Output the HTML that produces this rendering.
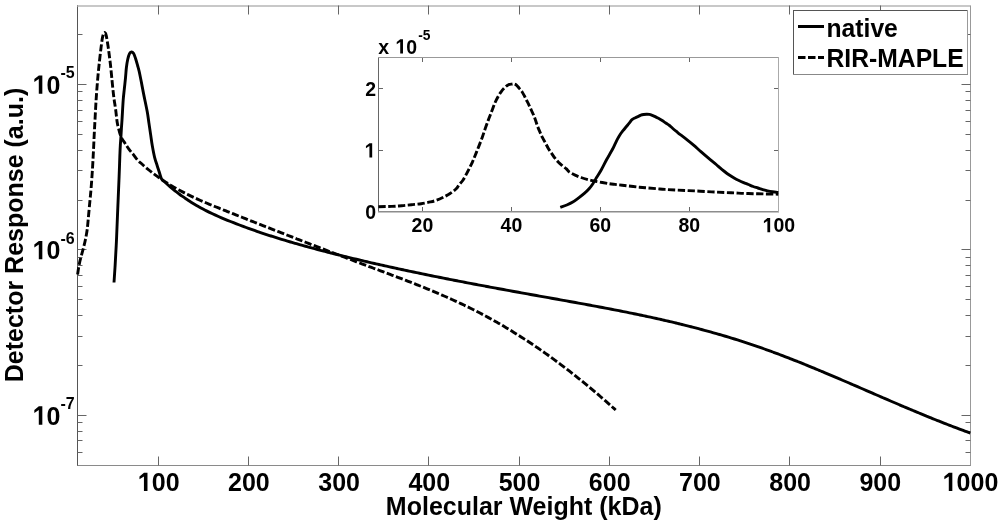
<!DOCTYPE html><html><head><meta charset="utf-8"><style>
html,body{margin:0;padding:0;background:#fff;}
svg{display:block;font-family:"Liberation Sans",sans-serif;font-weight:bold;filter:grayscale(1);}
</style></head><body>
<svg width="1000" height="524" viewBox="0 0 1000 524">
<defs><path id="one" d="M500 0L500 -1150L135 -925L135 -1150L505 -1440L790 -1440L790 0Z"/></defs>
<rect width="1000" height="524" fill="#fff"/>
<g shape-rendering="crispEdges" fill="none">
<rect x="5" y="0" width="0" height="0"/>
</g>
<g fill="none" stroke-width="1">
<line x1="77.5" y1="5" x2="77.5" y2="466" stroke="#555"/>
<line x1="77.5" y1="6" x2="970.5" y2="6" stroke="#c8c8c8" stroke-width="2"/>
<line x1="77.5" y1="465.5" x2="971" y2="465.5" stroke="#8a8a8a"/>
<line x1="970.5" y1="5.5" x2="970.5" y2="465.5" stroke="#999"/>
</g>
<path d="M158.5 465.5 V456.5 M158.5 5.5 V14.5 M248.5 465.5 V456.5 M248.5 5.5 V14.5 M338.5 465.5 V456.5 M338.5 5.5 V14.5 M428.5 465.5 V456.5 M428.5 5.5 V14.5 M519.5 465.5 V456.5 M519.5 5.5 V14.5 M609.5 465.5 V456.5 M609.5 5.5 V14.5 M699.5 465.5 V456.5 M699.5 5.5 V14.5 M789.5 465.5 V456.5 M789.5 5.5 V14.5 M880.5 465.5 V456.5 M880.5 5.5 V14.5 M77.5 452.5 H82.5 M970.5 452.5 H965.5 M77.5 440.5 H82.5 M970.5 440.5 H965.5 M77.5 431.5 H82.5 M970.5 431.5 H965.5 M77.5 422.5 H82.5 M970.5 422.5 H965.5 M77.5 415.5 H86.5 M970.5 415.5 H961.5 M77.5 365.5 H82.5 M970.5 365.5 H965.5 M77.5 336.5 H82.5 M970.5 336.5 H965.5 M77.5 315.5 H82.5 M970.5 315.5 H965.5 M77.5 299.5 H82.5 M970.5 299.5 H965.5 M77.5 286.5 H82.5 M970.5 286.5 H965.5 M77.5 275.5 H82.5 M970.5 275.5 H965.5 M77.5 265.5 H82.5 M970.5 265.5 H965.5 M77.5 257.5 H82.5 M970.5 257.5 H965.5 M77.5 249.5 H86.5 M970.5 249.5 H961.5 M77.5 200.5 H82.5 M970.5 200.5 H965.5 M77.5 170.5 H82.5 M970.5 170.5 H965.5 M77.5 150.5 H82.5 M970.5 150.5 H965.5 M77.5 134.5 H82.5 M970.5 134.5 H965.5 M77.5 121.5 H82.5 M970.5 121.5 H965.5 M77.5 110.5 H82.5 M970.5 110.5 H965.5 M77.5 100.5 H82.5 M970.5 100.5 H965.5 M77.5 91.5 H82.5 M970.5 91.5 H965.5 M77.5 84.5 H86.5 M970.5 84.5 H961.5 M77.5 34.5 H82.5 M970.5 34.5 H965.5" stroke="#666" stroke-width="1" fill="none"/>
<g transform="translate(137.83 491) scale(1 1.04)"><text font-size="25"> 00</text><use href="#one" transform="translate(0 0) scale(0.01221)"/></g>
<g transform="translate(228.03 491) scale(1 1.04)"><text font-size="25">200</text></g>
<g transform="translate(318.23 491) scale(1 1.04)"><text font-size="25">300</text></g>
<g transform="translate(408.43 491) scale(1 1.04)"><text font-size="25">400</text></g>
<g transform="translate(498.63 491) scale(1 1.04)"><text font-size="25">500</text></g>
<g transform="translate(588.84 491) scale(1 1.04)"><text font-size="25">600</text></g>
<g transform="translate(679.04 491) scale(1 1.04)"><text font-size="25">700</text></g>
<g transform="translate(769.24 491) scale(1 1.04)"><text font-size="25">800</text></g>
<g transform="translate(859.44 491) scale(1 1.04)"><text font-size="25">900</text></g>
<g transform="translate(942.69 491) scale(1 1.04)"><text font-size="25"> 000</text><use href="#one" transform="translate(0 0) scale(0.01221)"/></g>
<g transform="translate(32.69 93.7) scale(1 1.04)"><text font-size="25"> 0</text><use href="#one" transform="translate(0 0) scale(0.01221)"/></g>
<text transform="translate(60.5 78.1) scale(1 1.04)" font-size="16">-5</text>
<g transform="translate(32.69 259.17) scale(1 1.04)"><text font-size="25"> 0</text><use href="#one" transform="translate(0 0) scale(0.01221)"/></g>
<text transform="translate(60.5 243.57) scale(1 1.04)" font-size="16">-6</text>
<g transform="translate(32.69 424.64) scale(1 1.04)"><text font-size="25"> 0</text><use href="#one" transform="translate(0 0) scale(0.01221)"/></g>
<text transform="translate(60.5 409.04) scale(1 1.04)" font-size="16">-7</text>
<text transform="translate(523.8 514.9) scale(1 1.04)" font-size="25" text-anchor="middle">Molecular Weight (kDa)</text>
<text transform="translate(22.7 235) rotate(-90) scale(1 1.04)" font-size="25" text-anchor="middle">Detector Response (a.u.)</text>
<g fill="none" stroke="#000" stroke-width="2.9" stroke-linejoin="round">
<path d="M114.00 282.50 C114.18 279.72 114.70 272.60 115.10 265.80 C115.50 259.00 116.00 250.17 116.40 241.70 C116.80 233.23 117.05 225.83 117.50 215.00 C117.95 204.17 118.75 185.37 119.10 176.70 C119.45 168.03 119.47 166.72 119.60 163.00 C119.73 159.28 119.78 157.27 119.90 154.40 C120.02 151.53 120.13 148.67 120.30 145.80 C120.47 142.93 120.72 140.07 120.90 137.20 C121.08 134.33 121.22 131.47 121.40 128.60 C121.58 125.73 121.70 124.77 122.00 120.00 C122.30 115.23 122.82 105.13 123.20 100.00 C123.58 94.87 123.92 92.90 124.30 89.20 C124.68 85.50 125.15 81.42 125.50 77.80 C125.85 74.18 126.03 70.55 126.40 67.50 C126.77 64.45 127.18 61.80 127.70 59.50 C128.22 57.20 128.88 54.95 129.50 53.70 C130.12 52.45 130.73 52.07 131.40 52.00 C132.07 51.93 132.83 52.30 133.50 53.30 C134.17 54.30 134.72 55.97 135.40 58.00 C136.08 60.03 136.97 63.25 137.60 65.50 C138.23 67.75 138.55 68.60 139.20 71.50 C139.85 74.40 140.75 79.08 141.50 82.90 C142.25 86.72 142.75 89.63 143.70 94.40 C144.65 99.17 146.33 106.75 147.20 111.50 C148.07 116.25 148.33 119.08 148.90 122.90 C149.47 126.72 150.03 130.58 150.60 134.40 C151.17 138.22 151.63 141.98 152.30 145.80 C152.97 149.62 153.78 153.98 154.60 157.30 C155.42 160.62 156.45 163.33 157.20 165.70 C157.95 168.07 158.38 169.30 159.10 171.50 C159.82 173.70 160.60 177.21 161.50 178.92 C162.40 180.63 163.50 180.84 164.50 181.76 C165.50 182.69 166.50 183.59 167.50 184.48 C168.50 185.36 169.50 186.23 170.50 187.08 C171.50 187.93 172.50 188.76 173.50 189.57 C174.50 190.38 175.50 191.17 176.50 191.95 C177.50 192.73 178.50 193.49 179.50 194.23 C180.50 194.97 181.50 195.70 182.50 196.41 C183.50 197.12 184.50 197.82 185.50 198.50 C186.50 199.18 187.50 199.85 188.50 200.50 C189.50 201.15 190.50 201.79 191.50 202.41 C192.50 203.03 193.50 203.64 194.50 204.24 C195.50 204.84 196.50 205.43 197.50 206.00 C198.50 206.57 199.50 207.13 200.50 207.68 C201.50 208.23 202.50 208.77 203.50 209.30 C204.50 209.83 205.50 210.34 206.50 210.85 C207.50 211.36 208.50 211.86 209.50 212.35 C210.50 212.83 211.50 213.31 212.50 213.79 C213.50 214.26 214.50 214.72 215.50 215.18 C216.50 215.63 217.50 216.08 218.50 216.52 C219.50 216.96 220.50 217.39 221.50 217.82 C222.50 218.25 223.50 218.67 224.50 219.09 C225.50 219.51 226.50 219.92 227.50 220.32 C228.50 220.73 229.50 221.13 230.50 221.53 C231.50 221.93 232.50 222.32 233.50 222.71 C234.50 223.10 235.50 223.49 236.50 223.87 C237.50 224.26 238.50 224.64 239.50 225.02 C240.50 225.40 241.50 225.77 242.50 226.14 C243.50 226.52 244.50 226.88 245.50 227.25 C246.50 227.62 247.50 227.98 248.50 228.34 C249.50 228.70 250.50 229.06 251.50 229.41 C252.50 229.77 253.50 230.12 254.50 230.47 C255.50 230.82 256.50 231.17 257.50 231.51 C258.50 231.85 259.50 232.20 260.50 232.53 C261.50 232.87 262.50 233.21 263.50 233.54 C264.50 233.88 265.50 234.21 266.50 234.54 C267.50 234.87 268.50 235.19 269.50 235.52 C270.50 235.84 271.50 236.16 272.50 236.48 C273.50 236.80 274.50 237.12 275.50 237.43 C276.50 237.75 277.50 238.06 278.50 238.37 C279.50 238.68 280.50 238.99 281.50 239.29 C282.50 239.60 283.50 239.90 284.50 240.20 C285.50 240.51 286.50 240.81 287.50 241.10 C288.50 241.40 289.50 241.70 290.50 241.99 C291.50 242.28 292.50 242.58 293.50 242.87 C294.50 243.16 295.50 243.44 296.50 243.73 C297.50 244.02 298.50 244.30 299.50 244.58 C300.50 244.87 301.50 245.15 302.50 245.43 C303.50 245.71 304.50 245.98 305.50 246.26 C306.50 246.54 307.50 246.81 308.50 247.09 C309.50 247.36 310.50 247.63 311.50 247.90 C312.50 248.17 313.50 248.44 314.50 248.71 C315.50 248.97 316.50 249.24 317.50 249.50 C318.50 249.77 319.50 250.03 320.50 250.29 C321.50 250.56 322.50 250.82 323.50 251.08 C324.50 251.34 325.50 251.59 326.50 251.85 C327.50 252.11 328.50 252.36 329.50 252.62 C330.50 252.87 331.50 253.13 332.50 253.38 C333.50 253.63 334.50 253.89 335.50 254.14 C336.50 254.39 337.50 254.64 338.50 254.89 C339.50 255.14 340.50 255.39 341.50 255.63 C342.50 255.88 343.50 256.13 344.50 256.37 C345.50 256.62 346.50 256.86 347.50 257.11 C348.50 257.35 349.50 257.59 350.50 257.83 C351.50 258.08 352.50 258.32 353.50 258.56 C354.50 258.80 355.50 259.04 356.50 259.27 C357.50 259.51 358.50 259.75 359.50 259.99 C360.50 260.22 361.50 260.46 362.50 260.69 C363.50 260.93 364.50 261.16 365.50 261.40 C366.50 261.63 367.50 261.86 368.50 262.09 C369.50 262.33 370.50 262.56 371.50 262.79 C372.50 263.02 373.50 263.25 374.50 263.47 C375.50 263.70 376.50 263.93 377.50 264.16 C378.50 264.38 379.50 264.61 380.50 264.83 C381.50 265.06 382.50 265.28 383.50 265.51 C384.50 265.73 385.50 265.96 386.50 266.18 C387.50 266.40 388.50 266.62 389.50 266.84 C390.50 267.06 391.50 267.28 392.50 267.50 C393.50 267.72 394.50 267.94 395.50 268.16 C396.50 268.38 397.50 268.59 398.50 268.81 C399.50 269.03 400.50 269.24 401.50 269.46 C402.50 269.67 403.50 269.89 404.50 270.10 C405.50 270.32 406.50 270.53 407.50 270.74 C408.50 270.95 409.50 271.17 410.50 271.38 C411.50 271.59 412.50 271.80 413.50 272.01 C414.50 272.22 415.50 272.43 416.50 272.64 C417.50 272.85 418.50 273.05 419.50 273.26 C420.50 273.47 421.50 273.68 422.50 273.88 C423.50 274.09 424.50 274.30 425.50 274.50 C426.50 274.71 427.50 274.91 428.50 275.11 C429.50 275.32 430.50 275.52 431.50 275.72 C432.50 275.93 433.50 276.13 434.50 276.33 C435.50 276.53 436.50 276.74 437.50 276.94 C438.50 277.14 439.50 277.34 440.50 277.54 C441.50 277.74 442.50 277.94 443.50 278.13 C444.50 278.33 445.50 278.53 446.50 278.73 C447.50 278.93 448.50 279.12 449.50 279.32 C450.50 279.52 451.50 279.71 452.50 279.91 C453.50 280.11 454.50 280.30 455.50 280.50 C456.50 280.69 457.50 280.89 458.50 281.08 C459.50 281.27 460.50 281.47 461.50 281.66 C462.50 281.85 463.50 282.05 464.50 282.24 C465.50 282.43 466.50 282.62 467.50 282.81 C468.50 283.01 469.50 283.20 470.50 283.39 C471.50 283.58 472.50 283.77 473.50 283.96 C474.50 284.15 475.50 284.34 476.50 284.53 C477.50 284.72 478.50 284.90 479.50 285.09 C480.50 285.28 481.50 285.47 482.50 285.66 C483.50 285.84 484.50 286.03 485.50 286.22 C486.50 286.41 487.50 286.59 488.50 286.78 C489.50 286.97 490.50 287.15 491.50 287.34 C492.50 287.52 493.50 287.71 494.50 287.89 C495.50 288.08 496.50 288.26 497.50 288.45 C498.50 288.63 499.50 288.82 500.50 289.00 C501.50 289.19 502.50 289.37 503.50 289.55 C504.50 289.74 505.50 289.92 506.50 290.10 C507.50 290.29 508.50 290.47 509.50 290.65 C510.50 290.84 511.50 291.02 512.50 291.20 C513.50 291.38 514.50 291.56 515.50 291.75 C516.50 291.93 517.50 292.11 518.50 292.29 C519.50 292.47 520.50 292.65 521.50 292.83 C522.50 293.02 523.50 293.20 524.50 293.38 C525.50 293.56 526.50 293.74 527.50 293.92 C528.50 294.10 529.50 294.28 530.50 294.46 C531.50 294.64 532.50 294.82 533.50 295.00 C534.50 295.18 535.50 295.36 536.50 295.54 C537.50 295.72 538.50 295.90 539.50 296.08 C540.50 296.26 541.50 296.44 542.50 296.61 C543.50 296.79 544.50 296.97 545.50 297.15 C546.50 297.33 547.50 297.51 548.50 297.69 C549.50 297.87 550.50 298.05 551.50 298.22 C552.50 298.40 553.50 298.58 554.50 298.76 C555.50 298.94 556.50 299.12 557.50 299.30 C558.50 299.48 559.50 299.66 560.50 299.84 C561.50 300.01 562.50 300.19 563.50 300.37 C564.50 300.55 565.50 300.73 566.50 300.91 C567.50 301.09 568.50 301.27 569.50 301.45 C570.50 301.63 571.50 301.81 572.50 301.99 C573.50 302.17 574.50 302.35 575.50 302.53 C576.50 302.72 577.50 302.90 578.50 303.08 C579.50 303.26 580.50 303.44 581.50 303.62 C582.50 303.81 583.50 303.99 584.50 304.17 C585.50 304.36 586.50 304.54 587.50 304.72 C588.50 304.91 589.50 305.09 590.50 305.28 C591.50 305.46 592.50 305.65 593.50 305.83 C594.50 306.02 595.50 306.20 596.50 306.39 C597.50 306.58 598.50 306.77 599.50 306.95 C600.50 307.14 601.50 307.33 602.50 307.52 C603.50 307.71 604.50 307.90 605.50 308.09 C606.50 308.28 607.50 308.47 608.50 308.66 C609.50 308.85 610.50 309.04 611.50 309.24 C612.50 309.43 613.50 309.62 614.50 309.82 C615.50 310.01 616.50 310.21 617.50 310.40 C618.50 310.60 619.50 310.80 620.50 311.00 C621.50 311.19 622.50 311.39 623.50 311.59 C624.50 311.79 625.50 311.99 626.50 312.19 C627.50 312.39 628.50 312.59 629.50 312.80 C630.50 313.00 631.50 313.20 632.50 313.41 C633.50 313.61 634.50 313.82 635.50 314.02 C636.50 314.23 637.50 314.44 638.50 314.65 C639.50 314.86 640.50 315.07 641.50 315.28 C642.50 315.49 643.50 315.70 644.50 315.91 C645.50 316.12 646.50 316.34 647.50 316.55 C648.50 316.77 649.50 316.99 650.50 317.20 C651.50 317.42 652.50 317.64 653.50 317.86 C654.50 318.08 655.50 318.30 656.50 318.52 C657.50 318.74 658.50 318.97 659.50 319.19 C660.50 319.42 661.50 319.64 662.50 319.87 C663.50 320.10 664.50 320.33 665.50 320.56 C666.50 320.79 667.50 321.02 668.50 321.25 C669.50 321.48 670.50 321.72 671.50 321.95 C672.50 322.19 673.50 322.43 674.50 322.66 C675.50 322.90 676.50 323.14 677.50 323.38 C678.50 323.62 679.50 323.87 680.50 324.11 C681.50 324.36 682.50 324.60 683.50 324.85 C684.50 325.10 685.50 325.35 686.50 325.60 C687.50 325.85 688.50 326.10 689.50 326.35 C690.50 326.61 691.50 326.86 692.50 327.12 C693.50 327.38 694.50 327.64 695.50 327.90 C696.50 328.16 697.50 328.42 698.50 328.68 C699.50 328.95 700.50 329.21 701.50 329.48 C702.50 329.75 703.50 330.02 704.50 330.29 C705.50 330.56 706.50 330.83 707.50 331.11 C708.50 331.38 709.50 331.66 710.50 331.94 C711.50 332.21 712.50 332.49 713.50 332.78 C714.50 333.06 715.50 333.34 716.50 333.63 C717.50 333.92 718.50 334.20 719.50 334.49 C720.50 334.78 721.50 335.08 722.50 335.37 C723.50 335.66 724.50 335.96 725.50 336.26 C726.50 336.56 727.50 336.86 728.50 337.16 C729.50 337.46 730.50 337.76 731.50 338.07 C732.50 338.38 733.50 338.69 734.50 339.00 C735.50 339.31 736.50 339.62 737.50 339.94 C738.50 340.25 739.50 340.57 740.50 340.89 C741.50 341.21 742.50 341.53 743.50 341.85 C744.50 342.18 745.50 342.50 746.50 342.83 C747.50 343.16 748.50 343.49 749.50 343.82 C750.50 344.16 751.50 344.49 752.50 344.83 C753.50 345.17 754.50 345.51 755.50 345.85 C756.50 346.19 757.50 346.54 758.50 346.89 C759.50 347.23 760.50 347.58 761.50 347.94 C762.50 348.29 763.50 348.64 764.50 349.00 C765.50 349.36 766.50 349.72 767.50 350.08 C768.50 350.44 769.50 350.80 770.50 351.17 C771.50 351.53 772.50 351.90 773.50 352.27 C774.50 352.64 775.50 353.01 776.50 353.38 C777.50 353.76 778.50 354.13 779.50 354.51 C780.50 354.89 781.50 355.27 782.50 355.65 C783.50 356.03 784.50 356.41 785.50 356.80 C786.50 357.18 787.50 357.57 788.50 357.96 C789.50 358.35 790.50 358.74 791.50 359.13 C792.50 359.52 793.50 359.91 794.50 360.31 C795.50 360.70 796.50 361.10 797.50 361.50 C798.50 361.89 799.50 362.29 800.50 362.70 C801.50 363.10 802.50 363.50 803.50 363.90 C804.50 364.31 805.50 364.71 806.50 365.12 C807.50 365.52 808.50 365.93 809.50 366.34 C810.50 366.75 811.50 367.16 812.50 367.57 C813.50 367.98 814.50 368.40 815.50 368.81 C816.50 369.22 817.50 369.64 818.50 370.06 C819.50 370.47 820.50 370.89 821.50 371.31 C822.50 371.73 823.50 372.14 824.50 372.56 C825.50 372.99 826.50 373.41 827.50 373.83 C828.50 374.25 829.50 374.67 830.50 375.10 C831.50 375.52 832.50 375.94 833.50 376.37 C834.50 376.79 835.50 377.22 836.50 377.65 C837.50 378.07 838.50 378.50 839.50 378.93 C840.50 379.36 841.50 379.79 842.50 380.21 C843.50 380.64 844.50 381.07 845.50 381.50 C846.50 381.93 847.50 382.36 848.50 382.79 C849.50 383.23 850.50 383.66 851.50 384.09 C852.50 384.52 853.50 384.95 854.50 385.38 C855.50 385.82 856.50 386.25 857.50 386.68 C858.50 387.12 859.50 387.55 860.50 387.98 C861.50 388.42 862.50 388.85 863.50 389.28 C864.50 389.72 865.50 390.15 866.50 390.58 C867.50 391.02 868.50 391.45 869.50 391.88 C870.50 392.32 871.50 392.75 872.50 393.18 C873.50 393.62 874.50 394.05 875.50 394.49 C876.50 394.92 877.50 395.35 878.50 395.78 C879.50 396.22 880.50 396.65 881.50 397.08 C882.50 397.51 883.50 397.95 884.50 398.38 C885.50 398.81 886.50 399.24 887.50 399.67 C888.50 400.10 889.50 400.53 890.50 400.96 C891.50 401.39 892.50 401.82 893.50 402.25 C894.50 402.68 895.50 403.11 896.50 403.54 C897.50 403.96 898.50 404.39 899.50 404.82 C900.50 405.24 901.50 405.67 902.50 406.10 C903.50 406.52 904.50 406.95 905.50 407.37 C906.50 407.79 907.50 408.21 908.50 408.64 C909.50 409.06 910.50 409.48 911.50 409.90 C912.50 410.32 913.50 410.74 914.50 411.16 C915.50 411.57 916.50 411.99 917.50 412.41 C918.50 412.82 919.50 413.24 920.50 413.65 C921.50 414.07 922.50 414.48 923.50 414.89 C924.50 415.30 925.50 415.71 926.50 416.12 C927.50 416.53 928.50 416.94 929.50 417.34 C930.50 417.75 931.50 418.15 932.50 418.56 C933.50 418.96 934.50 419.36 935.50 419.76 C936.50 420.17 937.50 420.56 938.50 420.96 C939.50 421.36 940.50 421.76 941.50 422.15 C942.50 422.55 943.50 422.94 944.50 423.33 C945.50 423.72 946.50 424.11 947.50 424.50 C948.50 424.89 949.50 425.27 950.50 425.66 C951.50 426.04 952.50 426.43 953.50 426.81 C954.50 427.19 955.50 427.57 956.50 427.94 C957.50 428.32 958.50 428.70 959.50 429.07 C960.50 429.44 961.50 429.81 962.50 430.18 C963.50 430.55 964.50 430.92 965.50 431.28 C966.50 431.65 967.70 432.08 968.50 432.37 C969.30 432.66 970.00 432.91 970.30 433.02"/>
<path d="M77.60 274.50 C77.77 273.38 78.25 269.87 78.60 267.80 C78.95 265.73 79.22 264.20 79.70 262.10 C80.18 260.00 80.83 257.72 81.50 255.20 C82.17 252.68 83.03 249.67 83.70 247.00 C84.37 244.33 84.92 242.12 85.50 239.20 C86.08 236.28 86.68 233.53 87.20 229.50 C87.72 225.47 88.13 219.92 88.60 215.00 C89.07 210.08 89.57 204.67 90.00 200.00 C90.43 195.33 90.80 192.00 91.20 187.00 C91.60 182.00 92.03 175.83 92.40 170.00 C92.77 164.17 93.10 157.83 93.40 152.00 C93.70 146.17 93.93 140.33 94.20 135.00 C94.47 129.67 94.73 125.00 95.00 120.00 C95.27 115.00 95.50 110.00 95.80 105.00 C96.10 100.00 96.40 95.27 96.80 90.00 C97.20 84.73 97.73 78.40 98.20 73.40 C98.67 68.40 99.13 64.23 99.60 60.00 C100.07 55.77 100.55 51.57 101.00 48.00 C101.45 44.43 101.92 40.85 102.30 38.60 C102.68 36.35 102.97 35.50 103.30 34.50 C103.63 33.50 103.93 32.80 104.30 32.60 C104.67 32.40 105.17 32.75 105.50 33.30 C105.83 33.85 105.97 34.32 106.30 35.90 C106.63 37.48 107.12 40.45 107.50 42.80 C107.88 45.15 108.27 47.63 108.60 50.00 C108.93 52.37 109.17 54.33 109.50 57.00 C109.83 59.67 110.20 62.33 110.60 66.00 C111.00 69.67 111.47 74.67 111.90 79.00 C112.33 83.33 112.82 88.50 113.20 92.00 C113.58 95.50 113.78 97.00 114.20 100.00 C114.62 103.00 115.22 106.38 115.70 110.00 C116.18 113.62 116.62 118.60 117.10 121.70 C117.58 124.80 117.92 126.02 118.60 128.60 C119.28 131.18 120.13 134.77 121.20 137.20 C122.27 139.63 123.72 141.20 125.00 143.20 C126.28 145.20 127.53 147.33 128.90 149.20 C130.27 151.07 131.77 152.60 133.20 154.40 C134.63 156.20 136.28 158.60 137.50 160.00 C138.72 161.40 139.50 161.88 140.50 162.79 C141.50 163.71 142.50 164.60 143.50 165.47 C144.50 166.34 145.50 167.20 146.50 168.04 C147.50 168.87 148.50 169.69 149.50 170.50 C150.50 171.30 151.50 172.09 152.50 172.86 C153.50 173.63 154.50 174.38 155.50 175.12 C156.50 175.86 157.50 176.58 158.50 177.29 C159.50 178.00 160.50 178.69 161.50 179.37 C162.50 180.05 163.50 180.71 164.50 181.37 C165.50 182.02 166.50 182.66 167.50 183.29 C168.50 183.91 169.50 184.53 170.50 185.13 C171.50 185.74 172.50 186.33 173.50 186.91 C174.50 187.49 175.50 188.06 176.50 188.62 C177.50 189.18 178.50 189.73 179.50 190.27 C180.50 190.81 181.50 191.34 182.50 191.86 C183.50 192.39 184.50 192.90 185.50 193.41 C186.50 193.91 187.50 194.41 188.50 194.90 C189.50 195.39 190.50 195.87 191.50 196.35 C192.50 196.82 193.50 197.29 194.50 197.75 C195.50 198.22 196.50 198.67 197.50 199.12 C198.50 199.57 199.50 200.02 200.50 200.46 C201.50 200.90 202.50 201.33 203.50 201.76 C204.50 202.19 205.50 202.62 206.50 203.04 C207.50 203.46 208.50 203.88 209.50 204.30 C210.50 204.71 211.50 205.12 212.50 205.53 C213.50 205.94 214.50 206.35 215.50 206.75 C216.50 207.16 217.50 207.56 218.50 207.96 C219.50 208.36 220.50 208.76 221.50 209.16 C222.50 209.56 223.50 209.96 224.50 210.36 C225.50 210.76 226.50 211.16 227.50 211.56 C228.50 211.96 229.50 212.35 230.50 212.75 C231.50 213.15 232.50 213.55 233.50 213.95 C234.50 214.34 235.50 214.74 236.50 215.14 C237.50 215.54 238.50 215.93 239.50 216.33 C240.50 216.73 241.50 217.12 242.50 217.52 C243.50 217.92 244.50 218.31 245.50 218.71 C246.50 219.11 247.50 219.50 248.50 219.90 C249.50 220.30 250.50 220.69 251.50 221.09 C252.50 221.48 253.50 221.88 254.50 222.27 C255.50 222.67 256.50 223.06 257.50 223.46 C258.50 223.85 259.50 224.25 260.50 224.64 C261.50 225.04 262.50 225.43 263.50 225.82 C264.50 226.22 265.50 226.61 266.50 227.01 C267.50 227.40 268.50 227.79 269.50 228.19 C270.50 228.58 271.50 228.97 272.50 229.36 C273.50 229.76 274.50 230.15 275.50 230.54 C276.50 230.93 277.50 231.33 278.50 231.72 C279.50 232.11 280.50 232.50 281.50 232.89 C282.50 233.28 283.50 233.68 284.50 234.07 C285.50 234.46 286.50 234.85 287.50 235.24 C288.50 235.63 289.50 236.02 290.50 236.41 C291.50 236.80 292.50 237.19 293.50 237.58 C294.50 237.97 295.50 238.36 296.50 238.75 C297.50 239.14 298.50 239.52 299.50 239.91 C300.50 240.30 301.50 240.69 302.50 241.08 C303.50 241.47 304.50 241.85 305.50 242.24 C306.50 242.63 307.50 243.02 308.50 243.40 C309.50 243.79 310.50 244.18 311.50 244.56 C312.50 244.95 313.50 245.34 314.50 245.72 C315.50 246.11 316.50 246.50 317.50 246.88 C318.50 247.27 319.50 247.65 320.50 248.04 C321.50 248.42 322.50 248.81 323.50 249.19 C324.50 249.58 325.50 249.96 326.50 250.34 C327.50 250.73 328.50 251.11 329.50 251.49 C330.50 251.88 331.50 252.26 332.50 252.64 C333.50 253.03 334.50 253.41 335.50 253.79 C336.50 254.17 337.50 254.56 338.50 254.94 C339.50 255.32 340.50 255.70 341.50 256.08 C342.50 256.46 343.50 256.84 344.50 257.22 C345.50 257.61 346.50 257.99 347.50 258.37 C348.50 258.75 349.50 259.12 350.50 259.50 C351.50 259.88 352.50 260.26 353.50 260.64 C354.50 261.02 355.50 261.40 356.50 261.78 C357.50 262.15 358.50 262.53 359.50 262.91 C360.50 263.29 361.50 263.67 362.50 264.04 C363.50 264.42 364.50 264.80 365.50 265.17 C366.50 265.55 367.50 265.92 368.50 266.30 C369.50 266.68 370.50 267.05 371.50 267.43 C372.50 267.80 373.50 268.18 374.50 268.55 C375.50 268.92 376.50 269.30 377.50 269.67 C378.50 270.05 379.50 270.42 380.50 270.80 C381.50 271.17 382.50 271.55 383.50 271.92 C384.50 272.30 385.50 272.67 386.50 273.05 C387.50 273.42 388.50 273.80 389.50 274.18 C390.50 274.55 391.50 274.93 392.50 275.31 C393.50 275.68 394.50 276.06 395.50 276.44 C396.50 276.82 397.50 277.20 398.50 277.58 C399.50 277.96 400.50 278.34 401.50 278.72 C402.50 279.11 403.50 279.49 404.50 279.87 C405.50 280.26 406.50 280.64 407.50 281.03 C408.50 281.42 409.50 281.81 410.50 282.20 C411.50 282.59 412.50 282.98 413.50 283.37 C414.50 283.76 415.50 284.16 416.50 284.55 C417.50 284.95 418.50 285.34 419.50 285.74 C420.50 286.14 421.50 286.54 422.50 286.95 C423.50 287.35 424.50 287.75 425.50 288.16 C426.50 288.57 427.50 288.97 428.50 289.39 C429.50 289.80 430.50 290.21 431.50 290.62 C432.50 291.04 433.50 291.46 434.50 291.88 C435.50 292.30 436.50 292.72 437.50 293.14 C438.50 293.57 439.50 293.99 440.50 294.42 C441.50 294.85 442.50 295.29 443.50 295.72 C444.50 296.16 445.50 296.60 446.50 297.04 C447.50 297.48 448.50 297.92 449.50 298.37 C450.50 298.82 451.50 299.27 452.50 299.72 C453.50 300.17 454.50 300.63 455.50 301.09 C456.50 301.55 457.50 302.01 458.50 302.48 C459.50 302.94 460.50 303.41 461.50 303.89 C462.50 304.36 463.50 304.84 464.50 305.32 C465.50 305.80 466.50 306.28 467.50 306.77 C468.50 307.26 469.50 307.75 470.50 308.24 C471.50 308.74 472.50 309.24 473.50 309.74 C474.50 310.24 475.50 310.75 476.50 311.26 C477.50 311.78 478.50 312.29 479.50 312.81 C480.50 313.33 481.50 313.86 482.50 314.39 C483.50 314.91 484.50 315.45 485.50 315.98 C486.50 316.52 487.50 317.06 488.50 317.61 C489.50 318.16 490.50 318.71 491.50 319.26 C492.50 319.82 493.50 320.37 494.50 320.94 C495.50 321.50 496.50 322.07 497.50 322.64 C498.50 323.21 499.50 323.79 500.50 324.37 C501.50 324.95 502.50 325.53 503.50 326.12 C504.50 326.71 505.50 327.31 506.50 327.90 C507.50 328.50 508.50 329.10 509.50 329.71 C510.50 330.32 511.50 330.93 512.50 331.54 C513.50 332.16 514.50 332.77 515.50 333.40 C516.50 334.02 517.50 334.65 518.50 335.28 C519.50 335.91 520.50 336.55 521.50 337.19 C522.50 337.83 523.50 338.47 524.50 339.12 C525.50 339.77 526.50 340.42 527.50 341.08 C528.50 341.74 529.50 342.40 530.50 343.07 C531.50 343.73 532.50 344.40 533.50 345.08 C534.50 345.75 535.50 346.43 536.50 347.11 C537.50 347.80 538.50 348.48 539.50 349.18 C540.50 349.87 541.50 350.56 542.50 351.26 C543.50 351.96 544.50 352.67 545.50 353.38 C546.50 354.08 547.50 354.80 548.50 355.51 C549.50 356.23 550.50 356.95 551.50 357.68 C552.50 358.40 553.50 359.13 554.50 359.87 C555.50 360.60 556.50 361.34 557.50 362.08 C558.50 362.82 559.50 363.57 560.50 364.32 C561.50 365.07 562.50 365.82 563.50 366.58 C564.50 367.34 565.50 368.11 566.50 368.87 C567.50 369.64 568.50 370.41 569.50 371.19 C570.50 371.97 571.50 372.75 572.50 373.53 C573.50 374.31 574.50 375.10 575.50 375.90 C576.50 376.69 577.50 377.49 578.50 378.29 C579.50 379.09 580.50 379.89 581.50 380.70 C582.50 381.51 583.50 382.33 584.50 383.14 C585.50 383.96 586.50 384.79 587.50 385.61 C588.50 386.44 589.50 387.27 590.50 388.10 C591.50 388.94 592.50 389.78 593.50 390.62 C594.50 391.46 595.50 392.31 596.50 393.16 C597.50 394.01 598.50 394.87 599.50 395.73 C600.50 396.59 601.50 397.45 602.50 398.32 C603.50 399.19 604.50 400.06 605.50 400.94 C606.50 401.81 607.50 402.69 608.50 403.58 C609.50 404.46 610.50 405.35 611.50 406.25 C612.50 407.14 613.80 408.31 614.50 408.94 C615.20 409.57 615.50 409.84 615.70 410.02" stroke-dasharray="7.27 2.49"/>
</g>
<rect x="793.5" y="10.5" width="174" height="64" fill="#fff" stroke="none"/>
<g fill="none" stroke-width="1">
<line x1="793.5" y1="10" x2="793.5" y2="75" stroke="#555"/>
<line x1="793" y1="10.5" x2="968" y2="10.5" stroke="#555"/>
<line x1="967.5" y1="10" x2="967.5" y2="75" stroke="#999"/>
<line x1="793" y1="74.5" x2="968" y2="74.5" stroke="#888"/>
</g>
<path d="M798 26.5 H824" stroke="#000" stroke-width="3"/>
<path d="M798 57.5 H824" stroke="#000" stroke-width="3" stroke-dasharray="7.5 2.5"/>
<text transform="translate(826.5 37) scale(1 1.04)" font-size="24.7">native</text>
<text transform="translate(826.5 67.2) scale(1 1.04)" font-size="24.7">RIR-MAPLE</text>
<rect x="378" y="57" width="401" height="155" fill="#fff"/>
<g fill="none" stroke-width="1">
<line x1="378.5" y1="57" x2="378.5" y2="212" stroke="#666"/>
<line x1="378" y1="57.5" x2="779" y2="57.5" stroke="#999"/>
<line x1="378" y1="211.7" x2="779" y2="211.7" stroke="#8c8c8c" stroke-width="1.4"/>
<line x1="778.5" y1="57" x2="778.5" y2="212" stroke="#aaa"/>
</g>
<path d="M422.5 211 V207 M422.5 58 V62 M511.5 211 V207 M511.5 58 V62 M600.5 211 V207 M600.5 58 V62 M689.5 211 V207 M689.5 58 V62 M379 150.5 H383 M778 150.5 H774 M379 88.5 H383 M778 88.5 H774" stroke="#666" stroke-width="1" fill="none"/>
<g fill="none" stroke="#000" stroke-width="2.9" stroke-linejoin="round">
<path d="M378.40 206.70 C380.65 206.65 388.02 206.57 391.90 206.40 C395.78 206.23 398.45 205.98 401.70 205.70 C404.95 205.42 408.15 205.03 411.40 204.70 C414.65 204.37 418.02 204.17 421.20 203.70 C424.38 203.23 427.92 202.48 430.50 201.90 C433.08 201.32 434.55 200.98 436.70 200.20 C438.85 199.42 441.17 198.32 443.40 197.20 C445.63 196.08 447.97 194.90 450.10 193.50 C452.23 192.10 454.68 190.28 456.20 188.80 C457.72 187.32 458.08 186.03 459.20 184.60 C460.32 183.17 461.68 181.98 462.90 180.20 C464.12 178.42 465.37 176.00 466.50 173.90 C467.63 171.80 468.73 169.53 469.70 167.60 C470.67 165.67 471.52 164.02 472.30 162.30 C473.08 160.58 473.70 159.00 474.40 157.30 C475.10 155.60 475.77 153.92 476.50 152.10 C477.23 150.28 477.83 148.88 478.80 146.40 C479.77 143.92 481.17 140.35 482.30 137.20 C483.43 134.05 484.53 130.52 485.60 127.50 C486.67 124.48 487.67 121.83 488.70 119.10 C489.73 116.37 490.77 113.78 491.80 111.10 C492.83 108.42 493.87 105.38 494.90 103.00 C495.93 100.62 496.97 98.67 498.00 96.80 C499.03 94.93 499.97 93.35 501.10 91.80 C502.23 90.25 503.57 88.68 504.80 87.50 C506.03 86.32 507.25 85.28 508.50 84.70 C509.75 84.12 511.42 84.13 512.30 84.00 C513.18 83.87 513.07 83.68 513.80 83.90 C514.53 84.12 515.75 84.52 516.70 85.30 C517.65 86.08 518.63 87.57 519.50 88.60 C520.37 89.63 521.10 90.30 521.90 91.50 C522.70 92.70 523.50 94.30 524.30 95.80 C525.10 97.30 525.90 98.92 526.70 100.50 C527.50 102.08 528.30 103.63 529.10 105.30 C529.90 106.97 530.70 108.75 531.50 110.50 C532.30 112.25 533.18 114.05 533.90 115.80 C534.62 117.55 535.17 119.18 535.80 121.00 C536.43 122.82 536.98 124.80 537.70 126.70 C538.42 128.60 539.30 130.57 540.10 132.40 C540.90 134.23 541.62 135.95 542.50 137.70 C543.38 139.45 544.45 141.15 545.40 142.90 C546.35 144.65 547.17 146.45 548.20 148.20 C549.23 149.95 550.48 151.73 551.60 153.40 C552.72 155.07 553.72 156.68 554.90 158.20 C556.08 159.72 557.43 161.23 558.70 162.50 C559.97 163.77 561.22 164.73 562.50 165.80 C563.78 166.87 565.28 167.88 566.40 168.90 C567.52 169.92 567.75 170.87 569.20 171.90 C570.65 172.93 573.13 174.17 575.10 175.10 C577.07 176.03 578.83 176.75 581.00 177.50 C583.17 178.25 585.92 179.02 588.10 179.60 C590.28 180.18 591.73 180.52 594.10 181.00 C596.47 181.48 599.75 182.05 602.30 182.50 C604.85 182.95 607.28 183.38 609.40 183.70 C611.52 184.02 612.87 184.15 615.00 184.40 C617.13 184.65 618.13 184.73 622.20 185.20 C626.27 185.67 633.67 186.62 639.40 187.20 C645.13 187.78 652.33 188.33 656.60 188.70 C660.87 189.07 661.57 189.17 665.00 189.40 C668.43 189.63 672.30 189.85 677.20 190.10 C682.10 190.35 688.67 190.60 694.40 190.90 C700.13 191.20 706.58 191.63 711.60 191.90 C716.62 192.17 720.75 192.33 724.50 192.50 C728.25 192.67 730.92 192.75 734.10 192.90 C737.28 193.05 740.42 193.27 743.60 193.40 C746.78 193.53 750.02 193.62 753.20 193.70 C756.38 193.78 759.52 193.83 762.70 193.90 C765.88 193.97 769.70 194.05 772.30 194.10 C774.90 194.15 777.30 194.18 778.30 194.20" stroke-dasharray="7.3 2.5"/>
<path d="M560.30 207.40 C561.38 207.00 564.72 205.88 566.80 205.00 C568.88 204.12 570.82 203.28 572.80 202.10 C574.78 200.92 576.73 199.38 578.70 197.90 C580.67 196.42 582.83 194.77 584.60 193.20 C586.37 191.63 587.92 190.08 589.30 188.50 C590.68 186.92 591.72 185.48 592.90 183.70 C594.08 181.92 595.02 180.08 596.40 177.80 C597.78 175.52 599.53 172.97 601.20 170.00 C602.87 167.03 604.58 163.33 606.40 160.00 C608.22 156.67 610.67 152.65 612.10 150.00 C613.53 147.35 614.13 145.87 615.00 144.10 C615.87 142.33 616.47 140.97 617.30 139.40 C618.13 137.83 619.05 136.15 620.00 134.70 C620.95 133.25 622.00 131.98 623.00 130.70 C624.00 129.42 625.00 128.22 626.00 127.00 C627.00 125.78 628.00 124.62 629.00 123.40 C630.00 122.18 630.93 120.65 632.00 119.70 C633.07 118.75 634.33 118.25 635.40 117.70 C636.47 117.15 637.48 116.82 638.40 116.40 C639.32 115.98 640.02 115.52 640.90 115.20 C641.78 114.88 642.75 114.67 643.70 114.50 C644.65 114.33 645.65 114.22 646.60 114.20 C647.55 114.18 648.45 114.20 649.40 114.40 C650.35 114.60 651.33 115.03 652.30 115.40 C653.27 115.77 654.25 116.15 655.20 116.60 C656.15 117.05 657.05 117.58 658.00 118.10 C658.95 118.62 659.93 119.12 660.90 119.70 C661.87 120.28 662.85 120.97 663.80 121.60 C664.75 122.23 665.65 122.85 666.60 123.50 C667.55 124.15 668.55 124.75 669.50 125.50 C670.45 126.25 671.35 127.17 672.30 128.00 C673.25 128.83 674.25 129.70 675.20 130.50 C676.15 131.30 676.27 131.43 678.00 132.80 C679.73 134.17 683.05 136.68 685.60 138.70 C688.15 140.72 690.75 142.73 693.30 144.90 C695.85 147.07 698.37 149.48 700.90 151.70 C703.43 153.92 705.95 156.07 708.50 158.20 C711.05 160.33 714.32 162.92 716.20 164.50 C718.08 166.08 718.42 166.53 719.80 167.70 C721.18 168.87 722.92 170.28 724.50 171.50 C726.08 172.72 727.70 173.92 729.30 175.00 C730.90 176.08 732.50 177.08 734.10 178.00 C735.70 178.92 737.32 179.73 738.90 180.50 C740.48 181.27 742.02 181.93 743.60 182.60 C745.18 183.27 746.80 183.85 748.40 184.50 C750.00 185.15 751.62 185.92 753.20 186.50 C754.78 187.08 756.32 187.48 757.90 188.00 C759.48 188.52 761.10 189.13 762.70 189.60 C764.30 190.07 765.90 190.45 767.50 190.80 C769.10 191.15 770.50 191.42 772.30 191.70 C774.10 191.98 777.30 192.37 778.30 192.50"/>
</g>
<g transform="translate(411.62 232.3) scale(1 1.04)"><text font-size="19.5">20</text></g>
<g transform="translate(500.56 232.3) scale(1 1.04)"><text font-size="19.5">40</text></g>
<g transform="translate(589.49 232.3) scale(1 1.04)"><text font-size="19.5">60</text></g>
<g transform="translate(678.42 232.3) scale(1 1.04)"><text font-size="19.5">80</text></g>
<g transform="translate(762.63 232.3) scale(1 1.04)"><text font-size="19.5"> 00</text><use href="#one" transform="translate(0 0) scale(0.00952)"/></g>
<g transform="translate(365.16 219.1) scale(1 1.04)"><text font-size="19.5">0</text></g>
<g transform="translate(364.66 157.46) scale(1 1.04)"><text font-size="19.5"> </text><use href="#one" transform="translate(0 0) scale(0.00952)"/></g>
<g transform="translate(365.16 95.82) scale(1 1.04)"><text font-size="19.5">2</text></g>
<g transform="translate(378.3 53.5) scale(1 1.04)"><text font-size="19.5">x</text></g>
<g transform="translate(395.46 53.5) scale(1 1.04)"><text font-size="19.5"> 0</text><use href="#one" transform="translate(0 0) scale(0.00952)"/></g>
<text transform="translate(418.2 39.7) scale(1 1.04)" font-size="13.8">-5</text>
</svg></body></html>
